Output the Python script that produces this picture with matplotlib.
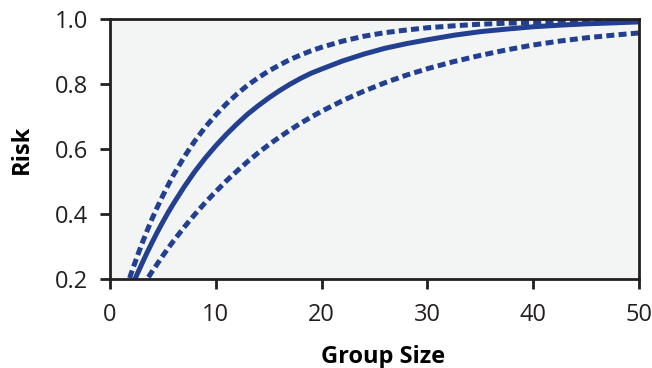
import matplotlib
matplotlib.use("Agg")
import matplotlib.pyplot as plt

plt.rcParams['font.family'] = ['Open Sans', 'DejaVu Sans']

# Group sizes at which the curves were read
group_size = [1.5, 2, 2.5, 3, 3.5, 4, 4.5, 5, 5.5, 6, 7, 8, 9, 10, 11, 12, 13, 14, 15, 16, 17,
              18, 19, 20, 22, 24, 26, 28, 30, 32.5, 35, 37.5, 40, 42.5, 45, 47.5, 50]
# Central estimate (solid)
risk_mid = [0.132, 0.172, 0.210, 0.246, 0.281, 0.314, 0.346, 0.376, 0.405, 0.432, 0.483,
            0.530, 0.572, 0.610, 0.645, 0.677, 0.707, 0.733, 0.757, 0.779, 0.799, 0.817,
            0.833, 0.846, 0.871, 0.892, 0.910, 0.924, 0.936, 0.950, 0.961, 0.969, 0.976,
            0.981, 0.985, 0.988, 0.991]
# Upper bound (dashed)
risk_upper = [0.167, 0.217, 0.263, 0.307, 0.348, 0.387, 0.423, 0.457, 0.489, 0.520, 0.575,
              0.624, 0.667, 0.705, 0.739, 0.769, 0.796, 0.819, 0.840, 0.858, 0.875, 0.889,
              0.902, 0.913, 0.932, 0.947, 0.958, 0.966, 0.973, 0.979, 0.984, 0.987, 0.989,
              0.991, 0.992, 0.993, 0.994]
# Lower bound (dashed)
group_size_low = [3, 3.5, 4, 4.5, 5, 5.5, 6, 7, 8, 9, 10, 11, 12, 13, 14, 15, 16, 17, 18, 19,
                  20, 22, 24, 26, 28, 30, 32.5, 35, 37.5, 40, 42.5, 45, 47.5, 50]
risk_lower = [0.174, 0.199, 0.224, 0.248, 0.272, 0.295, 0.317, 0.359, 0.398, 0.435, 0.469,
              0.502, 0.532, 0.561, 0.588, 0.613, 0.636, 0.658, 0.679, 0.698, 0.716, 0.749,
              0.778, 0.804, 0.827, 0.847, 0.869, 0.888, 0.905, 0.920, 0.932, 0.942, 0.950,
              0.957]

xticks = [0, 10, 20, 30, 40, 50]
yticks = [0.2, 0.4, 0.6, 0.8, 1.0]

color = '#22408f'
fig = plt.figure(figsize=(6.52, 3.68), dpi=100)
ax = fig.add_axes([0.1687, 0.2418, 0.8113, 0.7066])
ax.set_facecolor('#f3f5f5')

ax.plot(group_size, risk_mid, color=color, lw=3.6, solid_capstyle='butt', solid_joinstyle='round')
ax.plot(group_size, risk_upper, color=color, lw=3.6, dashes=(1.6, 0.85), dash_capstyle='butt')
ax.plot(group_size_low, risk_lower, color=color, lw=3.6, dashes=(1.6, 0.85), dash_capstyle='butt')

ax.set_xlim(0, 50)
ax.set_ylim(0.2, 1.0)
ax.set_xticks(xticks)
ax.set_xticklabels([str(t) for t in xticks])
ax.set_yticks(yticks)
ax.set_yticklabels([f"{t:.1f}" for t in yticks])

for s in ax.spines.values():
    s.set_linewidth(2)
    s.set_color('#231f20')
ax.tick_params(axis='both', direction='out', length=7, width=2, color='#231f20',
               labelsize=17, labelcolor='#231f20')
ax.tick_params(axis='y', pad=9)
ax.tick_params(axis='x', pad=10)

ax.set_xlabel('Group Size', fontsize=17, fontweight='bold', color='black', labelpad=13)
ax.set_ylabel('Risk', fontsize=17, fontweight='bold', color='black', labelpad=15)
ax.xaxis.label.set_x(0.516)

fig.savefig('out.png', dpi=100)
